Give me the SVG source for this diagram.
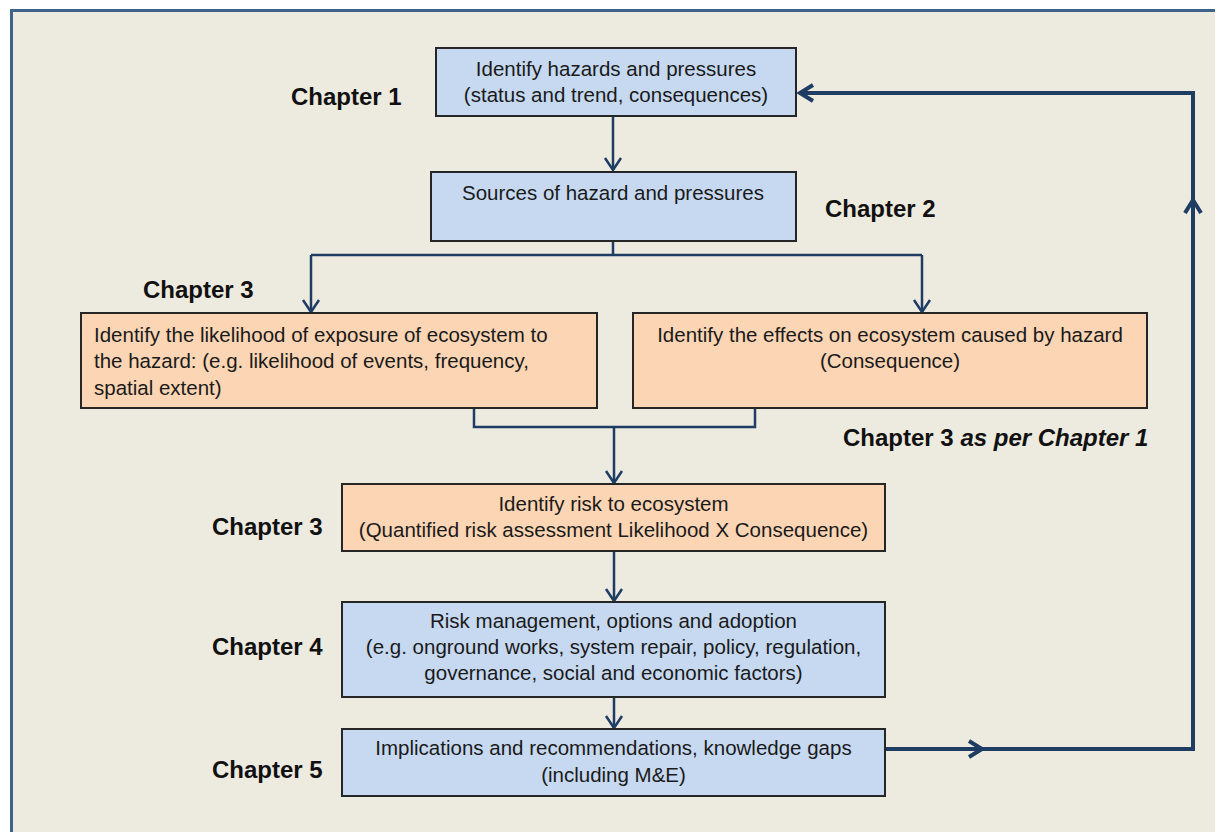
<svg xmlns="http://www.w3.org/2000/svg" width="1220" height="832" viewBox="0 0 1220 832">
<style>
.bg{fill:#edeae0}
.frame{stroke:#3f6289;stroke-width:3;fill:none}
.blue{fill:#c6d9f1;stroke:#262626;stroke-width:2}
.orange{fill:#fcd5b4;stroke:#262626;stroke-width:2}
.t{font-family:"Liberation Sans",Arial,sans-serif;font-size:20.5px;fill:#1a1a1a}
.c{text-anchor:middle}
.ch{font-family:"Liberation Sans",Arial,sans-serif;font-size:24px;font-weight:bold;fill:#111}
.conn{stroke:#1f3d63;stroke-width:2.5;fill:none}
.loop{stroke:#1f3d63;stroke-width:4;fill:none;stroke-linejoin:miter}
</style>
<defs>
<marker id="a" markerUnits="userSpaceOnUse" markerWidth="30" markerHeight="30" refX="0" refY="0" viewBox="-15 -15 30 30" orient="auto" overflow="visible">
<path d="M-12,-8 L0,0 L-12,8" fill="none" stroke="#1f3d63" stroke-width="2.5"/>
</marker>
<marker id="b" markerUnits="userSpaceOnUse" markerWidth="30" markerHeight="30" refX="0" refY="0" viewBox="-15 -15 30 30" orient="auto" overflow="visible">
<path d="M-13,-8 L0,0 L-13,8" fill="none" stroke="#1f3d63" stroke-width="4"/>
</marker>
</defs>
<rect x="0" y="0" width="1220" height="832" fill="#ffffff"/>
<rect class="bg" x="10" y="10" width="1205" height="822"/>
<path class="frame" d="M11.5,832 L11.5,10.5 L1215,10.5"/>

<g id="connectors">
<path class="conn" d="M613,116 L613,170" marker-end="url(#a)"/>
<path class="conn" d="M613,241 L613,255"/>
<path class="conn" d="M311,255 L922,255"/>
<path class="conn" d="M311,255 L311,312" marker-end="url(#a)"/>
<path class="conn" d="M922,255 L922,312" marker-end="url(#a)"/>
<path class="conn" d="M474,408 L474,427 L755,427 L755,408"/>
<path class="conn" d="M614,427 L614,483" marker-end="url(#a)"/>
<path class="conn" d="M614,551 L614,601" marker-end="url(#a)"/>
<path class="conn" d="M614,697 L614,728" marker-end="url(#a)"/>
<path class="loop" d="M885,749 L982,749" marker-end="url(#b)"/>
<path class="loop" d="M982,749 L1193,749 L1193,200" marker-end="url(#b)"/>
<path class="loop" d="M1193,200 L1193,93 L800,93" marker-end="url(#b)"/>
</g>

<g id="node-hazards">
<rect class="blue" x="436" y="48" width="360" height="68"/>
<text class="t c" x="616" y="76">Identify hazards and pressures</text>
<text class="t c" x="616" y="102">(status and trend, consequences)</text>
</g>
<g id="node-sources">
<rect class="blue" x="431" y="172" width="365" height="69"/>
<text class="t c" x="613" y="200">Sources of hazard and pressures</text>
</g>
<g id="node-likelihood">
<rect class="orange" x="81" y="313" width="516" height="95"/>
<text class="t" x="94" y="342">Identify the likelihood of exposure of ecosystem to</text>
<text class="t" x="94" y="368">the hazard: (e.g. likelihood of events, frequency,</text>
<text class="t" x="94" y="395">spatial extent)</text>
</g>
<g id="node-effects">
<rect class="orange" x="633" y="313" width="514" height="95"/>
<text class="t c" x="890" y="342">Identify the effects on ecosystem caused by hazard</text>
<text class="t c" x="890" y="368">(Consequence)</text>
</g>
<g id="node-risk">
<rect class="orange" x="342" y="484" width="543" height="67"/>
<text class="t c" x="613.5" y="511">Identify risk to ecosystem</text>
<text class="t c" x="613.5" y="537">(Quantified risk assessment Likelihood X Consequence)</text>
</g>
<g id="node-management">
<rect class="blue" x="342" y="602" width="543" height="95"/>
<text class="t c" x="613.5" y="628">Risk management, options and adoption</text>
<text class="t c" x="613.5" y="654">(e.g. onground works, system repair, policy, regulation,</text>
<text class="t c" x="613.5" y="680">governance, social and economic factors)</text>
</g>
<g id="node-implications">
<rect class="blue" x="342" y="729" width="543" height="67"/>
<text class="t c" x="613.5" y="755">Implications and recommendations, knowledge gaps</text>
<text class="t c" x="613.5" y="782">(including M&amp;E)</text>
</g>

<g id="chapter-labels">
<text class="ch" x="291" y="105">Chapter 1</text>
<text class="ch" x="825" y="217">Chapter 2</text>
<text class="ch" x="143" y="298">Chapter 3</text>
<text class="ch" x="843" y="446">Chapter 3 <tspan font-style="italic">as per Chapter 1</tspan></text>
<text class="ch" x="212" y="535">Chapter 3</text>
<text class="ch" x="212" y="655">Chapter 4</text>
<text class="ch" x="212" y="778">Chapter 5</text>
</g>
</svg>
